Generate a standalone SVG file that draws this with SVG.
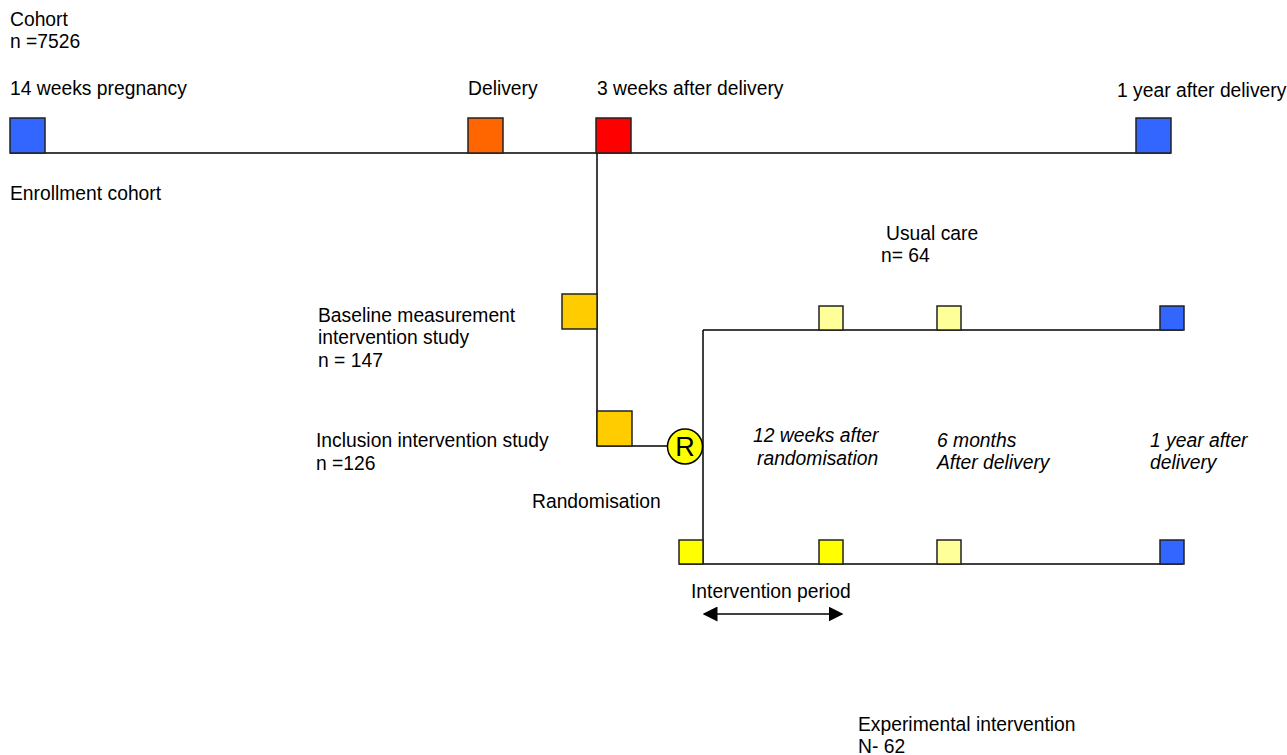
<svg xmlns="http://www.w3.org/2000/svg" width="1287" height="755" viewBox="0 0 1287 755">
<style>
text{font-family:"Liberation Sans",Arial,sans-serif;font-size:19.3px;fill:#000}
.it{font-style:italic}
.ln{stroke:#000;stroke-width:1.5;fill:none}
.sq{stroke:#222;stroke-width:1.5}
.blue{fill:#3366FF}.orange{fill:#FF6600}.red{fill:#FF0000}.gold{fill:#FFCC00}.yel{fill:#FFFF00}.pale{fill:#FFFF99}
</style>
<defs>
<marker id="ah" viewBox="0 0 10 10" refX="9" refY="5" markerWidth="15" markerHeight="15" markerUnits="userSpaceOnUse" orient="auto-start-reverse">
<path d="M0,0 L10,5 L0,10 z" fill="#000"/>
</marker>
</defs>
<g id="connectors">
<line class="ln" x1="10" y1="153" x2="1171" y2="153"/>
<line class="ln" x1="597" y1="153" x2="597" y2="446"/>
<line class="ln" x1="597" y1="446" x2="667" y2="446"/>
<line class="ln" x1="703" y1="330" x2="703" y2="564"/>
<line class="ln" x1="703" y1="330" x2="1183" y2="330"/>
<line class="ln" x1="679" y1="564" x2="1183" y2="564"/>
<line class="ln" x1="704" y1="614" x2="842" y2="614" marker-start="url(#ah)" marker-end="url(#ah)"/>
</g>
<g id="cohort-label"><text x="10" y="26">Cohort</text><text x="10" y="48">n =7526</text></g>
<g id="t14w"><rect class="sq blue" x="10" y="118" width="35" height="35"/><text x="10" y="95">14 weeks pregnancy</text></g>
<g id="delivery"><rect class="sq orange" x="468" y="118" width="35" height="35"/><text x="468" y="95">Delivery</text></g>
<g id="t3w"><rect class="sq red" x="596" y="118" width="35" height="35"/><text x="597" y="95">3 weeks after delivery</text></g>
<g id="t1y"><rect class="sq blue" x="1136" y="118" width="35" height="35"/><text x="1117" y="97">1 year after delivery</text></g>
<g id="enrollment"><text x="10" y="200">Enrollment cohort</text></g>
<g id="baseline"><rect class="sq gold" x="562" y="294" width="35" height="35"/><text x="318" y="322">Baseline measurement</text><text x="318" y="344">intervention study</text><text x="318" y="367">n = 147</text></g>
<g id="inclusion"><rect class="sq gold" x="597" y="411" width="35" height="35"/><text x="316" y="447">Inclusion intervention study</text><text x="316" y="470">n =126</text></g>
<g id="randomisation"><circle cx="685" cy="446.5" r="17.5" fill="#FFFF00" stroke="#000" stroke-width="1.5"/><text x="685" y="456" text-anchor="middle" style="font-size:27px">R</text><text x="532" y="508">Randomisation</text></g>
<g id="usual-care"><text x="886" y="240">Usual care</text><text x="881" y="262">n= 64</text>
<rect class="sq pale" x="819" y="306" width="24" height="24"/><rect class="sq pale" x="937" y="306" width="24" height="24"/><rect class="sq blue" x="1160" y="306" width="24" height="24"/></g>
<g id="timepoints"><text class="it" x="753" y="442">12 weeks after</text><text class="it" x="757" y="465">randomisation</text>
<text class="it" x="937" y="447">6 months</text><text class="it" x="937" y="469">After delivery</text>
<text class="it" x="1150" y="447">1 year after</text><text class="it" x="1150" y="469">delivery</text></g>
<g id="experimental"><rect class="sq yel" x="679" y="540" width="24" height="24"/><rect class="sq yel" x="819" y="540" width="24" height="24"/><rect class="sq pale" x="937" y="540" width="24" height="24"/><rect class="sq blue" x="1160" y="540" width="24" height="24"/>
<text x="858" y="731">Experimental intervention</text><text x="858" y="753">N- 62</text></g>
<g id="intervention-period"><text x="691" y="598">Intervention period</text></g>
</svg>
